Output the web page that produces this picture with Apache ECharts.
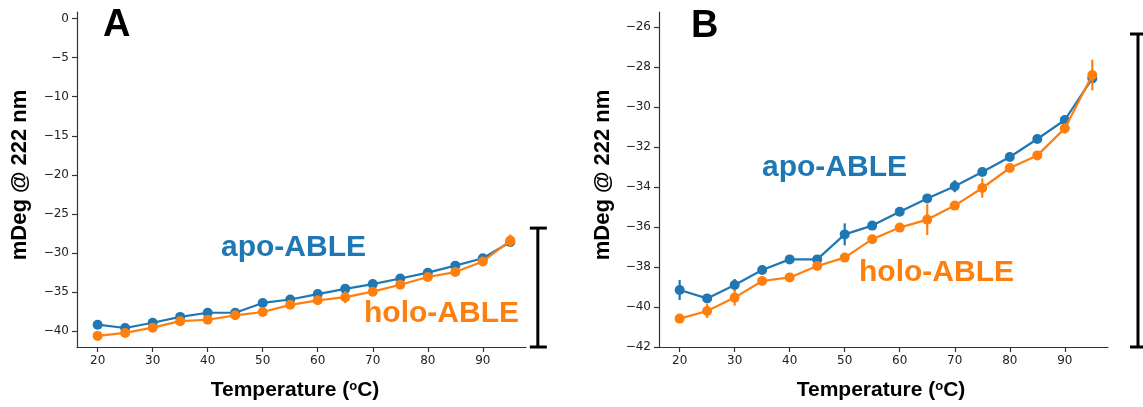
<!DOCTYPE html>
<html>
<head>
<meta charset="utf-8">
<script src="https://cdn.jsdelivr.net/npm/echarts@6/dist/echarts.min.js"></script>
<style>html,body{margin:0;padding:0;background:#fff}#c{width:1143px;height:407px}</style>
</head>
<body>
<div id="c"></div>
<script>
const temps = [20,25,30,35,40,45,50,55,60,65,70,75,80,85,90,95];
const apoMean  = [-39.15,-39.57,-38.9,-38.15,-37.62,-37.62,-36.37,-35.93,-35.24,-34.57,-33.96,-33.25,-32.5,-31.6,-30.65,-28.57];
const apoErr   = [0.5,0.15,0.3,0.12,0.22,0.22,0.55,0.1,0.1,0.1,0.3,0.1,0.1,0.1,0.15,0.2];
const holoMean = [-40.58,-40.2,-39.53,-38.7,-38.52,-37.95,-37.53,-36.61,-36.03,-35.63,-34.93,-34.05,-33.05,-32.42,-31.07,-28.4];
const holoErr  = [0.1,0.35,0.4,0.1,0.1,0.1,0.1,0.1,0.1,0.77,0.1,0.48,0.1,0.1,0.25,0.77];
const xTicks = [20,30,40,50,60,70,80,90];
const yTicksA = [0,-5,-10,-15,-20,-25,-30,-35,-40];
const yTicksB = [-26,-28,-30,-32,-34,-36,-38,-40,-42];
const scaleBarA = [100, -42, -26.8];
const scaleBarB = [103.3, -42, -26.35];

const BLUE = '#1f77b4', ORANGE = '#ff7f0e';
const chart = echarts.init(document.getElementById('c'), null, {renderer:'canvas', width:1143, height:407});

const minus = v => String(v).replace('-', '\u2212');
function xAxis(gi){
  return {type:'value', gridIndex:gi, min:16.25, max:97.85,
    axisLine:{show:true, onZero:false, lineStyle:{color:'#333', width:1.2}},
    axisTick:{show:true, length:5, customValues:xTicks, lineStyle:{color:'#333', width:1.2}},
    axisLabel:{customValues:xTicks, fontSize:12, color:'#222', fontFamily:'DejaVu Sans', margin:8},
    splitLine:{show:false}};
}
function yAxis(gi, min, max, ticks){
  return {type:'value', gridIndex:gi, min:min, max:max,
    axisLine:{show:true, onZero:false, lineStyle:{color:'#333', width:1.2}},
    axisTick:{show:true, length:5, customValues:ticks, lineStyle:{color:'#333', width:1.2}},
    axisLabel:{customValues:ticks, fontSize:12, color:'#222', fontFamily:'DejaVu Sans', margin:8, formatter:minus},
    splitLine:{show:false}};
}
function lineSeries(gi, mean, color, z){
  return {type:'line', xAxisIndex:gi, yAxisIndex:gi, data:temps.map((t,i)=>[t,mean[i]]),
    symbol:'circle', symbolSize:10, showSymbol:true, z:z,
    lineStyle:{color:color, width:2.2}, itemStyle:{color:color, borderWidth:0}, animation:false};
}
function errSeries(gi, mean, err, color, z){
  return {type:'custom', xAxisIndex:gi, yAxisIndex:gi, z:z, animation:false,
    data:temps.map((t,i)=>[t, mean[i]-err[i], mean[i]+err[i]]),
    renderItem:(p, api)=>{
      const a = api.coord([api.value(0), api.value(1)]);
      const b = api.coord([api.value(0), api.value(2)]);
      return {type:'line', shape:{x1:a[0],y1:a[1],x2:b[0],y2:b[1]}, style:{stroke:color, lineWidth:2.2}};
    }};
}
function barSeries(gi, bar){
  return {type:'custom', xAxisIndex:gi, yAxisIndex:gi, clip:false, animation:false, z:5,
    data:[bar],
    renderItem:(p, api)=>{
      const a = api.coord([api.value(0), api.value(1)]);
      const b = api.coord([api.value(0), api.value(2)]);
      const st = {stroke:'#000', lineWidth:3};
      return {type:'group', children:[
        {type:'line', shape:{x1:a[0],y1:a[1],x2:b[0],y2:b[1]}, style:st},
        {type:'line', shape:{x1:a[0]-8,y1:a[1],x2:a[0]+9,y2:a[1]}, style:st},
        {type:'line', shape:{x1:b[0]-8,y1:b[1],x2:b[0]+9,y2:b[1]}, style:st}
      ]};
    }};
}
const bold = 'Liberation Sans';
function txt(x, y, s, size, color, extra){
  return Object.assign({type:'text', x:x, y:y, style:{text:s, font:'bold '+size+'px "'+bold+'"', fill:color, align:'left', verticalAlign:'middle'}}, extra||{});
}
const tempLabel = (cx)=>({type:'text', x:cx, y:390, style:{
  text:'Temperature ({s|o}C)', fill:'#000', align:'center', verticalAlign:'middle',
  font:'bold 21px "Liberation Sans"',
  rich:{s:{fontSize:13, fontWeight:'bold', fontFamily:'Liberation Sans', verticalAlign:'top', padding:[0,0,8,0]}}
}});
const yLabel = (cx)=>({type:'text', x:cx, y:175, rotation:Math.PI/2, style:{
  text:'mDeg @ 222 nm', font:'bold 22px "Liberation Sans"', fill:'#000', align:'center', verticalAlign:'middle'}});

chart.setOption({
  animation:false,
  backgroundColor:'#fff',
  grid:[{left:77, top:12, width:449, height:335}, {left:659, top:12, width:449, height:335}],
  xAxis:[xAxis(0), xAxis(1)],
  yAxis:[yAxis(0,-42,0.82,yTicksA), yAxis(1,-42,-25.25,yTicksB)],
  series:[
    lineSeries(0, apoMean, BLUE, 2), errSeries(0, apoMean, apoErr, BLUE, 2),
    lineSeries(0, holoMean, ORANGE, 3), errSeries(0, holoMean, holoErr, ORANGE, 3),
    lineSeries(1, apoMean, BLUE, 2), errSeries(1, apoMean, apoErr, BLUE, 2),
    lineSeries(1, holoMean, ORANGE, 3), errSeries(1, holoMean, holoErr, ORANGE, 3),
    barSeries(0, scaleBarA), barSeries(1, scaleBarB)
  ],
  graphic:[
    txt(103, 26, 'A', 38, '#000'),
    txt(691, 27, 'B', 38, '#000'),
    txt(221, 248, 'apo-ABLE', 30, BLUE),
    txt(364, 314, 'holo-ABLE', 30, ORANGE),
    txt(762, 168, 'apo-ABLE', 30, BLUE),
    txt(859, 273, 'holo-ABLE', 30, ORANGE),
    tempLabel(295), tempLabel(881),
    yLabel(20), yLabel(603)
  ]
});
</script>
</body>
</html>
